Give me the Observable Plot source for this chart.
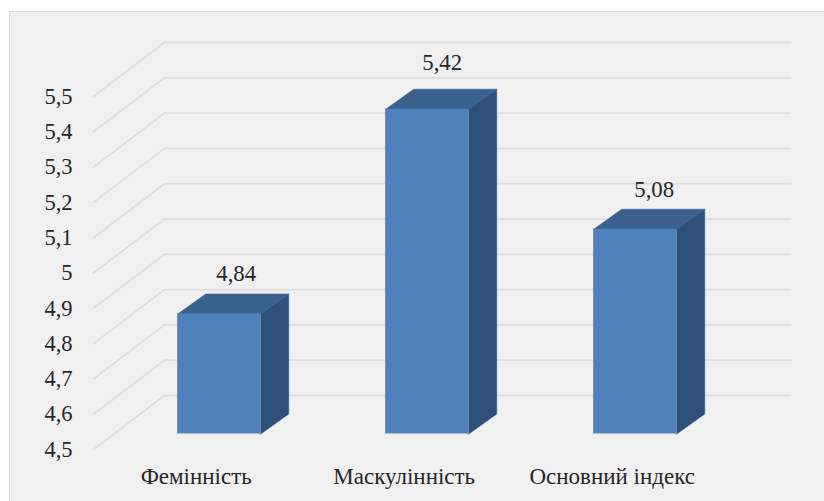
<!DOCTYPE html>
<html>
<head>
<meta charset="utf-8">
<script src="https://cdn.jsdelivr.net/npm/d3@7"></script>
<script src="https://cdn.jsdelivr.net/npm/@observablehq/plot@0.6"></script>
<style>
  html, body { margin: 0; padding: 0; background: #fff; }
  #panel { position: absolute; left: 9px; top: 11px; width: 830px; height: 510px; background: #f0f0f0; border: 1.5px solid #d9d9d9; box-sizing: border-box; }
  #chart { position: absolute; left: 0; top: 0; width: 824px; height: 501px; overflow: hidden; }
  svg { background: transparent !important; }
</style>
</head>
<body>
<div id="panel"></div>
<div id="chart"></div>
<script>
const categories = ["Фемінність", "Маскулінність", "Основний індекс"];
const values = [4.84, 5.42, 5.08];
const ticks = [4.5, 4.6, 4.7, 4.8, 4.9, 5, 5.1, 5.2, 5.3, 5.4, 5.5];
const baseline = 4.5;

// Pixel geometry is converted to data units, so all marks go through the scales.
const pxX = 208, pxY = 353;
const x0 = 218.7, y0 = 433.5;
const halfW = 41.5 / pxX;
const depthX = 28 / pxX, depthY = 20 / pxY;
const backUp = 38.5 / pxY, frontDown = 15.5 / pxY;
const backL = (164 - x0) / pxX, backR = (790 - x0) / pxX, frontL = (93 - x0) / pxX;

const fmt = v => String(v).replace(".", ",");
const idx = categories.map((_, i) => i);

const gridPts = ticks.flatMap(t => [
  {t, x: frontL, y: t - frontDown},
  {t, x: backL, y: t + backUp},
  {t, x: backR, y: t + backUp}
]);
const face = (f) => idx.flatMap(i => f(i, values[i]).map(([x, y]) => ({i, x, y})));
const sidePts = face((i, v) => [
  [i + halfW, baseline], [i + halfW + depthX, baseline + depthY],
  [i + halfW + depthX, v + depthY], [i + halfW, v], [i + halfW, baseline]
]);
const topPts = face((i, v) => [
  [i - halfW, v], [i + halfW, v],
  [i + halfW + depthX, v + depthY], [i - halfW + depthX, v + depthY], [i - halfW, v]
]);
const labelDx = [17, 15, 19];
const labelDy = [40, 47, 40];

const plot = Plot.plot({
  width: 824, height: 501,
  marginLeft: 72, marginBottom: 34, marginTop: 0, marginRight: 0,
  style: {background: "transparent", fontFamily: "'Liberation Serif', serif"},
  x: {type: "linear", domain: [0, 2], range: [x0, x0 + 2 * pxX], label: null},
  y: {type: "linear", domain: [baseline, 5.5], range: [y0, y0 - pxY], label: null},
  marks: [
    Plot.line(gridPts, {x: "x", y: "y", z: "t", stroke: "#dedede", strokeWidth: 1.8, curve: "linear"}),
    Plot.line(sidePts, {x: "x", y: "y", z: "i", fill: "#2f5078", stroke: "#2f5078", strokeWidth: 0.6, curve: "linear"}),
    Plot.line(topPts, {x: "x", y: "y", z: "i", fill: "#3b628f", stroke: "#3b628f", strokeWidth: 0.6, curve: "linear"}),
    Plot.rect(idx, {x1: i => i - halfW, x2: i => i + halfW, y1: baseline, y2: i => values[i], fill: "#4f81bd", inset: 0}),
    Plot.text(idx, {
      x: i => i + labelDx[i] / pxX,
      y: i => values[i] + labelDy[i] / pxY,
      text: i => values[i].toFixed(2).replace(".", ","),
      fontSize: 22.8, fill: "#262626"
    }),
    Plot.axisY(ticks, {tickSize: 0, tickPadding: 0, dy: 15.5, tickFormat: fmt, fontSize: 22.5, fill: "#262626", label: null}),
    Plot.axisX(idx, {tickSize: 0, tickPadding: 0, dx: -23, tickFormat: i => categories[i], fontSize: 23, fill: "#262626", label: null, anchor: "bottom"})
  ]
});
document.getElementById("chart").appendChild(plot);
</script>
</body>
</html>
